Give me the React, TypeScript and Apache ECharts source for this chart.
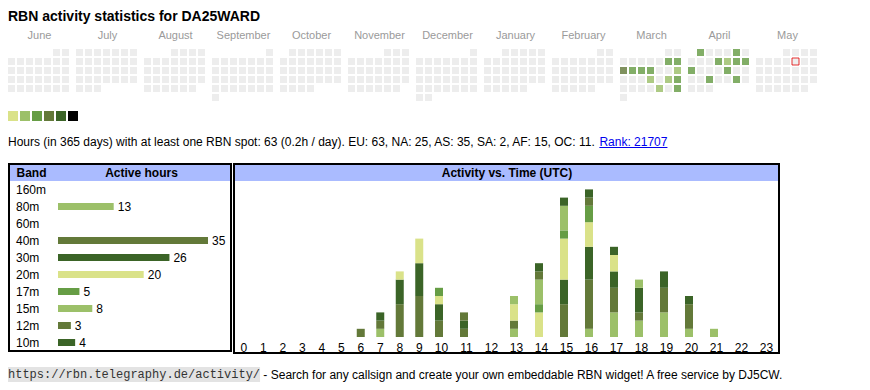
import React, { useEffect, useRef } from 'react';
import * as echarts from 'echarts';

const FONT = '"Liberation Sans", Arial, Helvetica, sans-serif';
const MONO = '"Liberation Mono", "DejaVu Sans Mono", monospace';

const TITLE = 'RBN activity statistics for DA25WARD';
const STATS_TEXT = 'Hours (in 365 days) with at least one RBN spot: 63 (0.2h / day). EU: 63, NA: 25, AS: 35, SA: 2, AF: 15, OC: 11. ';
const RANK_TEXT = 'Rank: 21707';
const FOOTER_URL = 'https://rbn.telegraphy.de/activity/';
const FOOTER_TEXT = ' - Search for any callsign and create your own embeddable RBN widget! A free service by DJ5CW.';

// Calendar (one block per month)
const monthRanges = ['2024-06', '2024-07', '2024-08', '2024-09', '2024-10', '2024-11', '2024-12', '2025-01', '2025-02', '2025-03', '2025-04', '2025-05'];
const monthNames = ['June', 'July', 'August', 'September', 'October', 'November', 'December', 'January', 'February', 'March', 'April', 'May'];

const activeDays = [
  '2025-03-08', '2025-03-09', '2025-03-10', '2025-03-11', '2025-03-12', '2025-03-13',
  '2025-03-16', '2025-03-20', '2025-03-22', '2025-03-23', '2025-03-28', '2025-03-30',
  '2025-04-01', '2025-04-05', '2025-04-10', '2025-04-11', '2025-04-12', '2025-04-13',
  '2025-04-14', '2025-04-18', '2025-04-23', '2025-04-26',
];
const activeDayHours = [3, 3, 5, 3, 3, 3, 2, 2, 2, 3, 2, 3, 3, 3, 3, 2, 3, 3, 3, 3, 3, 3];
const todayDate = '2025-05-09';

// Legend levels
const levelColors = ['#dae289', '#9cc069', '#669d45', '#637939', '#3b6427', '#000000'];
const levelMin = [1, 2, 3, 5, 9, 17];
const levelMax = [1, 2, 4, 8, 16, 24];

// Bands
const bands = ['160m', '80m', '60m', '40m', '30m', '20m', '17m', '15m', '12m', '10m'];
const bandHours = [0, 13, 0, 35, 26, 20, 5, 8, 3, 4];
const bandColors = ['#dae289', '#9cc069', '#669d45', '#637939', '#3b6427', '#dae289', '#669d45', '#9cc069', '#637939', '#3b6427'];

// Activity vs time (UTC), per band, hours 0..23
const hourLabels = ['0', '1', '2', '3', '4', '5', '6', '7', '8', '9', '10', '11', '12', '13', '14', '15', '16', '17', '18', '19', '20', '21', '22', '23'];
const hours160m = [0, 0, 0, 0, 0, 0, 0, 0, 0, 0, 0, 0, 0, 0, 0, 0, 0, 0, 0, 0, 0, 0, 0, 0];
const hours80m = [0, 0, 0, 0, 0, 0, 0, 1, 0, 0, 0, 0, 0, 1, 0, 0, 1, 3, 2, 3, 1, 1, 0, 0];
const hours60m = [0, 0, 0, 0, 0, 0, 0, 0, 0, 0, 0, 0, 0, 0, 0, 0, 0, 0, 0, 0, 0, 0, 0, 0];
const hours40m = [0, 0, 0, 0, 0, 0, 1, 1, 4, 5, 2, 1, 0, 1, 0, 4, 6, 3, 1, 3, 3, 0, 0, 0];
const hours30m = [0, 0, 0, 0, 0, 0, 0, 1, 3, 4, 2, 1, 0, 0, 0, 3, 4, 2, 3, 2, 1, 0, 0, 0];
const hours20m = [0, 0, 0, 0, 0, 0, 0, 0, 1, 3, 1, 0, 0, 2, 3, 5, 3, 2, 0, 0, 0, 0, 0, 0];
const hours17m = [0, 0, 0, 0, 0, 0, 0, 0, 0, 0, 1, 0, 0, 0, 1, 1, 2, 0, 0, 0, 0, 0, 0, 0];
const hours15m = [0, 0, 0, 0, 0, 0, 0, 0, 0, 0, 0, 0, 0, 1, 3, 3, 0, 0, 1, 0, 0, 0, 0, 0];
const hours12m = [0, 0, 0, 0, 0, 0, 0, 0, 0, 0, 0, 1, 0, 0, 1, 0, 1, 0, 0, 0, 0, 0, 0, 0];
const hours10m = [0, 0, 0, 0, 0, 0, 0, 0, 0, 0, 0, 0, 0, 0, 1, 1, 1, 1, 0, 0, 0, 0, 0, 0];
const bandHourly = [hours160m, hours80m, hours60m, hours40m, hours30m, hours20m, hours17m, hours15m, hours12m, hours10m];

function measure(text: string, font: string): number {
  const ctx = document.createElement('canvas').getContext('2d');
  if (!ctx) return text.length * 6;
  ctx.font = font;
  return ctx.measureText(text).width;
}

export default function App() {
  const ref = useRef<HTMLDivElement>(null);

  useEffect(() => {
    if (!ref.current) return;
    const chart = echarts.init(ref.current, undefined, { renderer: 'svg' });

    const calendars: any[] = monthRanges.map((m, i) => ({
      orient: 'vertical',
      range: m,
      left: 7 + i * 68,
      top: 48,
      cellSize: [9, 9],
      dayLabel: { show: false, firstDay: 1 },
      monthLabel: { show: false },
      yearLabel: { show: false },
      splitLine: { show: false },
      itemStyle: { color: '#ededed', borderColor: '#ffffff', borderWidth: 2 },
      silent: true,
    }));

    const series: any[] = [];
    const calSeriesIdx: number[] = [];
    monthRanges.forEach((m, i) => {
      const pts = activeDays
        .map((d, k) => [d, activeDayHours[k]])
        .filter((p) => String(p[0]).startsWith(m));
      if (pts.length) {
        calSeriesIdx.push(series.length);
        series.push({
          type: 'scatter',
          coordinateSystem: 'calendar',
          calendarIndex: i,
          symbol: 'rect',
          symbolSize: 7,
          data: pts,
          silent: true,
        });
      }
    });
    series.push({
      type: 'scatter',
      coordinateSystem: 'calendar',
      calendarIndex: monthRanges.indexOf(todayDate.slice(0, 7)),
      symbol: 'rect',
      symbolSize: 7,
      data: [[todayDate, 0]],
      itemStyle: { color: '#ededed', borderColor: '#e00000', borderWidth: 1 },
      silent: true,
    });

    // Band bar chart
    series.push({
      type: 'bar',
      xAxisIndex: 0,
      yAxisIndex: 0,
      barWidth: 7,
      silent: true,
      data: bandHours.map((v, i) => ({ value: v, itemStyle: { color: bandColors[i] } })),
      label: {
        show: true,
        position: 'right',
        distance: 4,
        fontSize: 12,
        fontFamily: FONT,
        color: '#000',
        formatter: (p: any) => (p.value ? String(p.value) : ''),
      },
    });

    // Hourly stacked bars: two grids (single-digit and double-digit hour columns)
    bands.forEach((b, i) => {
      const arr = bandHourly[i];
      if (!arr.some((v) => v > 0)) return;
      series.push({
        type: 'bar', name: b, xAxisIndex: 1, yAxisIndex: 1, stack: 'early', barWidth: 8, silent: true,
        data: arr.slice(0, 10), itemStyle: { color: bandColors[i] },
      });
      series.push({
        type: 'bar', name: b, xAxisIndex: 2, yAxisIndex: 2, stack: 'late', barWidth: 8, silent: true,
        data: arr.slice(10), itemStyle: { color: bandColors[i] },
      });
    });

    const statsFont = `12px ${FONT}`;
    const statsW = measure(STATS_TEXT, statsFont);
    const rankW = measure(RANK_TEXT, statsFont);
    const urlW = measure(FOOTER_URL, `12px ${MONO}`);

    const txt = (text: string, x: number, y: number, opts: any = {}) => ({
      type: 'text',
      x,
      y,
      silent: true,
      style: {
        text,
        fill: opts.fill || '#000',
        fontSize: opts.fontSize || 12,
        fontWeight: opts.fontWeight || 'normal',
        fontFamily: opts.fontFamily || FONT,
        textAlign: opts.align || 'left',
        textVerticalAlign: 'middle',
      },
    });

    const graphics: any[] = [
      txt(TITLE, 8, 16, { fontSize: 14, fontWeight: 'bold' }),
      ...monthNames.map((n, i) => txt(n, 39.5 + i * 68, 35, { fontSize: 11, fill: '#9a9a9a', align: 'center' })),
      txt(STATS_TEXT, 8, 142),
      txt(RANK_TEXT, 8 + statsW, 142, { fill: '#0000ee' }),
      { type: 'line', silent: true, shape: { x1: 8 + statsW, y1: 147.5, x2: 8 + statsW + rankW, y2: 147.5 }, style: { stroke: '#0000ee', lineWidth: 1 } },
      // left table
      { type: 'rect', silent: true, shape: { x: 10, y: 165, width: 220, height: 16 }, style: { fill: '#aabbff' } },
      { type: 'rect', silent: true, shape: { x: 9, y: 164, width: 222, height: 187 }, style: { fill: 'none', stroke: '#000', lineWidth: 2 } },
      txt('Band', 16.5, 173, { fontWeight: 'bold' }),
      txt('Active hours', 141.5, 173, { fontWeight: 'bold', align: 'center' }),
      // right table
      { type: 'rect', silent: true, shape: { x: 235, y: 165, width: 543, height: 16 }, style: { fill: '#aabbff' } },
      { type: 'rect', silent: true, shape: { x: 234, y: 164, width: 545, height: 189 }, style: { fill: 'none', stroke: '#000', lineWidth: 2 } },
      txt('Activity vs. Time (UTC)', 507, 173, { fontWeight: 'bold', align: 'center' }),
      // footer
      { type: 'rect', silent: true, shape: { x: 8, y: 367, width: urlW, height: 15 }, style: { fill: '#e3e3e3' } },
      txt(FOOTER_URL, 8, 374.5, { fontFamily: MONO, fill: '#333' }),
      txt(FOOTER_TEXT, 8 + urlW, 374.5),
    ];

    const option: any = {
      animation: false,
      calendar: calendars,
      visualMap: {
        type: 'piecewise',
        orient: 'horizontal',
        left: 8,
        top: 111,
        padding: 0,
        itemWidth: 10,
        itemHeight: 10,
        itemGap: 2,
        itemSymbol: 'rect',
        showLabel: false,
        selectedMode: false,
        seriesIndex: calSeriesIdx,
        pieces: levelColors.map((c, i) => ({ min: levelMin[i], max: levelMax[i], color: c })),
      },
      grid: [
        { left: 58, top: 181, width: 150, height: 170 },
        { left: 234, top: 173, width: 195, height: 164 },
        { left: 426.5, top: 173, width: 350, height: 164 },
      ],
      xAxis: [
        { gridIndex: 0, type: 'value', min: 0, max: Math.max(...bandHours), show: false },
        {
          gridIndex: 1, type: 'category', data: hourLabels.slice(0, 10),
          axisLine: { show: false }, axisTick: { show: false },
          axisLabel: { interval: 0, fontSize: 12, fontFamily: FONT, color: '#000', margin: 5 },
        },
        {
          gridIndex: 2, type: 'category', data: hourLabels.slice(10),
          axisLine: { show: false }, axisTick: { show: false },
          axisLabel: { interval: 0, fontSize: 12, fontFamily: FONT, color: '#000', margin: 5, padding: [0, 0, 0, 5] },
        },
      ],
      yAxis: [
        {
          gridIndex: 0, type: 'category', inverse: true, data: bands,
          axisLine: { show: false }, axisTick: { show: false }, splitLine: { show: false },
          axisLabel: { interval: 0, align: 'left', margin: 42, fontSize: 12, fontFamily: FONT, color: '#000' },
        },
        { gridIndex: 1, type: 'value', min: 0, max: 20, show: false, splitLine: { show: false } },
        { gridIndex: 2, type: 'value', min: 0, max: 20, show: false, splitLine: { show: false } },
      ],
      graphic: { elements: graphics },
      series,
    };

    chart.setOption(option);
    return () => chart.dispose();
  }, []);

  return (
    <div
      ref={ref}
      style={{ position: 'fixed', left: 0, top: 0, width: 870, height: 390, background: '#fff' }}
    />
  );
}
